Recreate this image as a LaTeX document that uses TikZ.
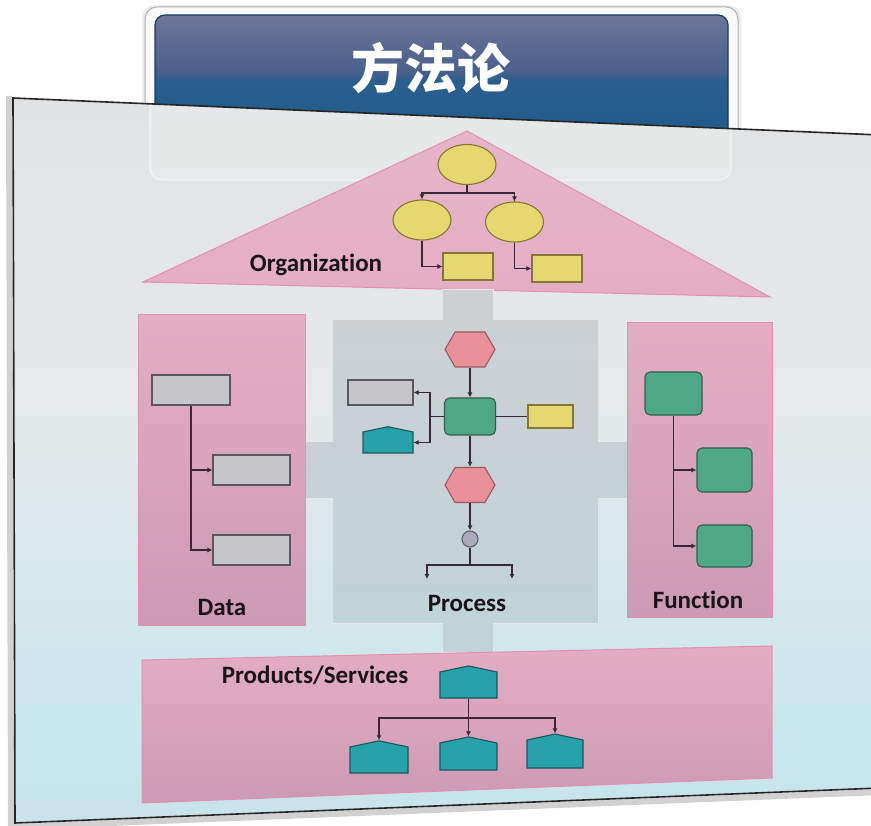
\documentclass[tikz,border=0pt]{standalone}
\usepackage{fontspec}
\setmainfont{Carlito}[Ligatures=NoCommon]
\newfontfamily\cjk{Noto Sans CJK SC}
\usetikzlibrary{shapes.geometric,shapes.symbols,arrows.meta}
\definecolor{tA}{HTML}{1C5A8A}
\definecolor{tB}{HTML}{2A5E8E}
\definecolor{tC}{HTML}{4A608B}
\definecolor{tD}{HTML}{6A7398}
\definecolor{tE}{HTML}{9C9CB5}
\definecolor{pB}{HTML}{CBD3D6}
\definecolor{pC}{HTML}{C8E7EE}
\definecolor{pM}{HTML}{E6E9EA}
\definecolor{pT}{HTML}{D9D9DA}
\definecolor{pinkT}{HTML}{E4ADC4}
\definecolor{pinkB}{HTML}{CD9AB3}
\definecolor{pinkE}{HTML}{E48FB0}
\definecolor{crossT}{HTML}{CDD0D3}
\definecolor{crossB}{HTML}{BFD3D8}
\definecolor{crossE}{HTML}{E4E7E9}
\definecolor{yelF}{HTML}{E6D870}
\definecolor{yelE}{HTML}{857634}
\definecolor{grnF}{HTML}{4EA887}
\definecolor{grnE}{HTML}{345C4C}
\definecolor{gryF}{HTML}{C6C6CA}
\definecolor{gryE}{HTML}{58585E}
\definecolor{hexF}{HTML}{E8919B}
\definecolor{hexE}{HTML}{985864}
\definecolor{tealF}{HTML}{27A2AA}
\definecolor{tealE}{HTML}{1D565C}
\definecolor{circF}{HTML}{AAABBA}
\definecolor{circE}{HTML}{5E5E6E}
\definecolor{lineC}{HTML}{3A2838}
\definecolor{txtC}{HTML}{1A1418}
\pgfdeclareverticalshading{titlesh}{100bp}{color(0bp)=(tA); color(30bp)=(tA); color(55bp)=(tB); color(58bp)=(tC); color(73bp)=(tD); color(100bp)=(tE)}
\pgfdeclareverticalshading{panelsh}{100bp}{color(0bp)=(pB); color(8bp)=(pB); color(30bp)=(pC); color(55bp)=(pM); color(100bp)=(pT)}
\tikzset{
  conn/.style={draw=lineC, line width=1.3pt},
  arr/.style={conn, -{Latex[length=5pt,width=5pt]}},
  pinkpanel/.style={top color=pinkT, bottom color=pinkB, draw=pinkE, line width=1pt},
  yel/.style={ellipse, draw=yelE, fill=yelF, line width=1.1pt, minimum width=58pt, minimum height=40pt, inner sep=0pt},
  yrect/.style={rectangle, draw=yelE, fill=yelF, line width=1.1pt, inner sep=0pt},
  grect/.style={rectangle, draw=gryE, fill=gryF, line width=1.1pt, inner sep=0pt},
  grn/.style={rectangle, rounded corners=5pt, draw=grnE, fill=grnF, line width=1.1pt, inner sep=0pt},
  hexa/.style={signal, signal to=east and west, signal pointer angle=120, draw=hexE, fill=hexF, line width=1.1pt, inner sep=0pt, minimum width=50pt, minimum height=35pt},
  house/.style={signal, signal to=north, signal pointer angle=156, draw=tealE, fill=tealF, line width=1.1pt, inner sep=0pt},
  lbl/.style={text=txtC, font=\bfseries\fontsize{25}{29}\selectfont, inner sep=0pt}
}
\begin{document}
\begin{tikzpicture}[x=1pt,y=-1pt]
\useasboundingbox (0,0) rectangle (871,826);
\fill[white] (0,0) rectangle (871,826);
% title box
\fill[black, opacity=0.08, rounded corners=13pt] (142,5) rectangle (741,190);
\draw[fill=white!95!gray, draw=gray!60, line width=1pt, rounded corners=12pt] (145,7) rectangle (738,186);
\shade[shading=titlesh, draw=tA!70!black, line width=1.2pt, rounded corners=10pt] (155,15) rectangle (728,180);
\node[inner sep=0pt, text=white] (title) at (431,68) {\cjk\bfseries\fontsize{53}{57}\selectfont 方法论};
% panel
\path[draw=black, opacity=0.18, line width=6pt] (9,96) -- (11,827) -- (880,792);
\shade[shading=panelsh] (13,98) -- (880,135) -- (880,788) -- (15,823) -- cycle;
\begin{scope}
  \clip (13,98) -- (880,135) -- (880,788) -- (15,823) -- cycle;
  \draw[fill=white, fill opacity=0.18, draw=white, draw opacity=0.55, line width=1.2pt, rounded corners=12pt] (150,15) rectangle (731,180);
\end{scope}
\draw[draw=black!85, line width=1.6pt] (880,135) -- (13,98) -- (15,823) -- (880,788);
% roof
\path[pinkpanel, top color=pinkT!90!white, bottom color=pinkT] (143,282) -- (467,131) -- (770,297) -- cycle;
% cross
\path[top color=crossT, bottom color=crossB, draw=crossE, line width=1pt]
  (442,290) -- (493,290) -- (493,320) -- (598,320) -- (598,442) -- (630,442) -- (630,498)
  -- (598,498) -- (598,623) -- (493,623) -- (493,652) -- (442,652) -- (442,623)
  -- (332,623) -- (332,498) -- (302,498) -- (302,442) -- (332,442) -- (332,320)
  -- (442,320) -- cycle;
% side panels
\path[pinkpanel] (138,315) rectangle (305,625);
\path[pinkpanel] (627,323) rectangle (772,617);
\path[pinkpanel] (142,660) -- (772,646) -- (772,778) -- (142,803) -- cycle;
% organization
\node[yel] (o1) at (467,164.5) {};
\node[yel] (o2) at (422,220) {};
\node[yel] (o3) at (514.5,222) {};
\node[yrect, minimum width=50pt, minimum height=27pt] (r1) at (468,266.5) {};
\node[yrect, minimum width=50pt, minimum height=27pt] (r2) at (557,268.5) {};
\coordinate (oj) at (467,193);
\draw[conn] (o1.south) -- (oj);
\draw[arr] (oj) -| (o2.north);
\draw[arr] (oj) -| (o3.north);
\draw[arr] (o2.south) |- (r1.west);
\draw[arr] (o3.south) |- (r2.west);
\node[lbl] (lorg) at (316,265) {Organization};
% data
\node[grect, minimum width=78pt, minimum height=30pt] (d1) at (191,390) {};
\node[grect, minimum width=77pt, minimum height=30pt] (d2) at (251.5,470) {};
\node[grect, minimum width=77pt, minimum height=30pt] (d3) at (251.5,550) {};
\draw[arr] (d1.south) |- (d2.west);
\draw[arr] (d1.south) |- (d3.west);
\node[lbl] (ldata) at (222,607) {Data};
% function
\node[grn, minimum width=57pt, minimum height=43pt] (f1) at (673.5,393.5) {};
\node[grn, minimum width=55pt, minimum height=44pt] (f2) at (724.5,470) {};
\node[grn, minimum width=55pt, minimum height=42pt] (f3) at (724.5,546) {};
\draw[arr] (f1.south) |- (f2.west);
\draw[arr] (f1.south) |- (f3.west);
\node[lbl] (lfun) at (698,600) {Function};
% process
\node[hexa] (h1) at (470,349.5) {};
\node[grn, minimum width=51pt, minimum height=37pt] (g1) at (470,416.5) {};
\node[grect, minimum width=65pt, minimum height=25pt] (gr) at (380.5,392.5) {};
\node[house, minimum width=50pt, minimum height=21pt] (t1) at (388,442.5) {};
\node[yrect, minimum width=45pt, minimum height=23pt] (y1) at (550.5,416.5) {};
\node[hexa] (h2) at (470,485) {};
\node[circle, draw=circE, fill=circF, line width=1.1pt, minimum size=16pt, inner sep=0pt] (c1) at (470,539) {};
\draw[arr] (h1) -- (g1);
\draw[conn] (g1) -- (y1);
\coordinate (pj) at (430,416.5);
\draw[conn] (g1.west) -- (pj);
\draw[arr] (pj) |- (gr.east);
\draw[arr] (pj) |- (t1.east);
\draw[arr] (g1) -- (h2);
\draw[arr] (h2) -- (c1);
\coordinate (sj) at (470,565);
\coordinate (s1) at (427,579);
\coordinate (s2) at (512,579);
\draw[conn] (c1) -- (sj);
\draw[arr] (sj) -| (s1);
\draw[arr] (sj) -| (s2);
\node[lbl] (lproc) at (467,603) {Process};
% products
\node[house, minimum width=57pt, minimum height=26pt] (p0) at (468.5,685) {};
\node[house, minimum width=58pt, minimum height=26pt] (p1) at (379,760) {};
\node[house, minimum width=57pt, minimum height=27pt] (p2) at (468.5,756.5) {};
\node[house, minimum width=56pt, minimum height=28pt] (p3) at (555,754) {};
\coordinate (pj2) at (468.5,718);
\draw[arr] (p0) -- (p2);
\draw[arr] (pj2) -| (p1.north);
\draw[arr] (pj2) -| (p3.north);
\node[lbl] (lprod) at (315,675) {Products/Services};
\end{tikzpicture}
\end{document}
